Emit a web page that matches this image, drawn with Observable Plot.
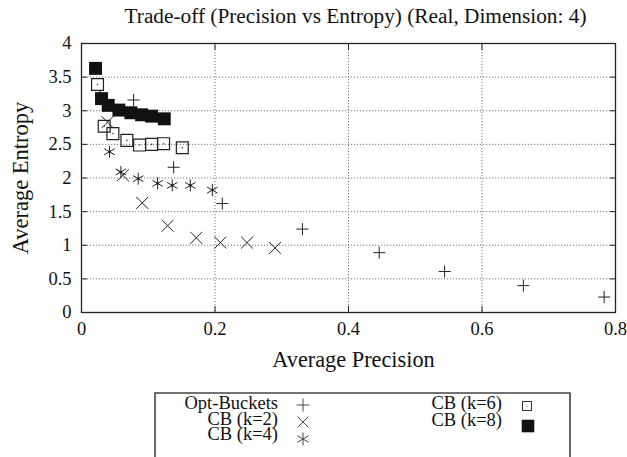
<!DOCTYPE html>
<html>
<head>
<meta charset="utf-8">
<script src="https://cdn.jsdelivr.net/npm/d3@7"></script>
<script src="https://cdn.jsdelivr.net/npm/@observablehq/plot@0.6"></script>
<style>
  html, body { margin: 0; padding: 0; background: #fff; overflow: hidden; }
  #wrap { position: relative; width: 627px; height: 457px; }
  #wrap svg, #wrap svg text { font-family: "Liberation Serif", "DejaVu Serif", "Noto Serif", serif !important; }
  #legend { position: absolute; left: 0; top: 380px; }
</style>
</head>
<body>
<div id="wrap"></div>
<script>
// ---- data ----
const optX = [0.078, 0.138, 0.211, 0.331, 0.446, 0.544, 0.662, 0.783];
const optY = [3.16, 2.16, 1.62, 1.24, 0.89, 0.61, 0.40, 0.23];

const k2X = [0.039, 0.062, 0.091, 0.129, 0.172, 0.208, 0.248, 0.290];
const k2Y = [2.83, 2.04, 1.63, 1.29, 1.11, 1.04, 1.04, 0.96];

const k4X = [0.028, 0.042, 0.059, 0.085, 0.114, 0.136, 0.163, 0.196];
const k4Y = [3.22, 2.39, 2.09, 1.99, 1.92, 1.89, 1.89, 1.82];

const k6X = [0.024, 0.034, 0.047, 0.068, 0.087, 0.105, 0.123, 0.151];
const k6Y = [3.39, 2.77, 2.66, 2.56, 2.49, 2.50, 2.51, 2.45];

const k8X = [0.021, 0.030, 0.040, 0.056, 0.074, 0.090, 0.105, 0.124];
const k8Y = [3.63, 3.18, 3.08, 3.01, 2.97, 2.94, 2.92, 2.88];

const xTicks = [0, 0.2, 0.4, 0.6, 0.8];
const yTicks = [0, 0.5, 1, 1.5, 2, 2.5, 3, 3.5, 4];
const xGrid = [0.2, 0.4, 0.6];
const yGrid = [0.5, 1, 1.5, 2, 2.5, 3, 3.5];

const title = "Trade-off (Precision vs Entropy) (Real, Dimension: 4)";
const xLabel = "Average Precision";
const yLabel = "Average Entropy";
const seriesNames = ["Opt-Buckets", "CB (k=2)", "CB (k=4)", "CB (k=6)", "CB (k=8)"];

const pts = (xs, ys) => xs.map((x, i) => ({x, y: ys[i]}));
const opt = pts(optX, optY), k2 = pts(k2X, k2Y), k4 = pts(k4X, k4Y), k6 = pts(k6X, k6Y), k8 = pts(k8X, k8Y);

const ink = "#222";
const blank = () => "";
const chart = Plot.plot({
  width: 627,
  height: 380,
  marginLeft: 81,
  marginRight: 12,
  marginTop: 43,
  marginBottom: 68,
  style: {fontFamily: "'Liberation Serif', 'DejaVu Serif', serif", fontSize: "18px", color: "#111", background: "#fff"},
  x: {domain: [0, 0.8]},
  y: {domain: [0, 4]},
  marks: [
    Plot.gridX(xGrid, {stroke: "#777", strokeOpacity: 1, strokeDasharray: "1.2,1.8"}),
    Plot.gridY(yGrid, {stroke: "#777", strokeOpacity: 1, strokeDasharray: "1.2,1.8"}),
    Plot.axisX(xTicks, {tickSize: 0, tickPadding: 9, tickFormat: d => String(d), label: null, fontSize: 18.5}),
    Plot.axisY(yTicks, {tickSize: 0, tickPadding: 10, tickFormat: d => String(d), label: null, fontSize: 18.5}),
    Plot.axisX(xTicks, {anchor: "bottom", tickSize: -6, tickFormat: blank, label: null, stroke: ink}),
    Plot.axisX(xTicks, {anchor: "top", tickSize: -6, tickFormat: blank, label: null, stroke: ink}),
    Plot.axisY(yTicks, {anchor: "left", tickSize: -6, tickFormat: blank, label: null, stroke: ink}),
    Plot.axisY(yTicks, {anchor: "right", tickSize: -6, tickFormat: blank, label: null, stroke: ink}),
    Plot.dot(opt, {x: "x", y: "y", symbol: "plus", r: 3.95, stroke: ink, strokeWidth: 1}),
    Plot.dot(k2, {x: "x", y: "y", symbol: "times", r: 5.5, stroke: ink, strokeWidth: 1}),
    Plot.dot(k4, {x: "x", y: "y", symbol: "asterisk", r: 5.7, stroke: ink, strokeWidth: 1}),
    Plot.dot(k4, {x: "x", y: "y", r: 1.3, fill: ink, stroke: "none"}),
    Plot.dot(k6, {x: "x", y: "y", symbol: "square", r: 6.7, fill: "none", stroke: ink, strokeWidth: 1.2}),
    Plot.dot(k6, {x: "x", y: "y", r: 0.8, fill: "#444", stroke: "none"}),
    Plot.dot(k8, {x: "x", y: "y", symbol: "square", r: 7.3, fill: "#111", stroke: "none"}),
    Plot.frame({stroke: ink, strokeWidth: 1.3}),
    Plot.text([title], {frameAnchor: "top", lineAnchor: "middle", textAnchor: "middle", dx: 7, dy: -27, fontSize: 21.3, fill: "#111"}),
    Plot.text([xLabel], {frameAnchor: "bottom", lineAnchor: "middle", textAnchor: "middle", dx: 5, dy: 47, fontSize: 22.3, fill: "#111"}),
    Plot.text([yLabel], {frameAnchor: "left", lineAnchor: "middle", textAnchor: "middle", dx: -61, rotate: -90, fontSize: 22.5, fill: "#111"})
  ]
});

const wrap = document.getElementById("wrap");
wrap.appendChild(chart);

// ---- legend (below the chart), drawn as a small SVG ----
const ns = "http://www.w3.org/2000/svg";
const oy = 380; // legend svg top in page coords
const lg = document.createElementNS(ns, "svg");
lg.setAttribute("id", "legend");
lg.setAttribute("width", 627);
lg.setAttribute("height", 77);
wrap.appendChild(lg);
const box = document.createElementNS(ns, "path");
box.setAttribute("d", `M155,${100}V${393 - oy}H570V${100}`);
box.setAttribute("fill", "none");
box.setAttribute("stroke", "#444");
box.setAttribute("stroke-width", "1.6");
lg.appendChild(box);
const entries = [
  {name: seriesNames[0], tx: 278, base: 409, sx: 303, sy: 405, kind: "plus"},
  {name: seriesNames[1], tx: 278, base: 424.5, sx: 303, sy: 422, kind: "times"},
  {name: seriesNames[2], tx: 278, base: 440, sx: 303, sy: 439, kind: "asterisk"},
  {name: seriesNames[3], tx: 502, base: 409, sx: 527, sy: 406, kind: "open"},
  {name: seriesNames[4], tx: 502, base: 425.5, sx: 528, sy: 426, kind: "filled"}
];
for (const e of entries) {
  const t = document.createElementNS(ns, "text");
  t.setAttribute("x", e.tx);
  t.setAttribute("y", e.base - oy);
  t.setAttribute("text-anchor", "end");
  t.setAttribute("font-size", "18.5");
  t.setAttribute("fill", "#111");
  t.textContent = e.name;
  lg.appendChild(t);
  const cx = e.sx, cy = e.sy - oy;
  let el;
  if (e.kind === "plus" || e.kind === "times" || e.kind === "asterisk") {
    let d;
    if (e.kind === "plus") d = `M${cx-6.5},${cy}H${cx+6.5}M${cx},${cy-6.5}V${cy+6.5}`;
    if (e.kind === "times") d = `M${cx-5.5},${cy-5.5}L${cx+5.5},${cy+5.5}M${cx+5.5},${cy-5.5}L${cx-5.5},${cy+5.5}`;
    if (e.kind === "asterisk") d = `M${cx},${cy-6.5}V${cy+6.5}M${cx-5.6},${cy-3.25}L${cx+5.6},${cy+3.25}M${cx+5.6},${cy-3.25}L${cx-5.6},${cy+3.25}`;
    el = document.createElementNS(ns, "path");
    el.setAttribute("d", d);
    el.setAttribute("stroke", "#333");
    el.setAttribute("stroke-width", "0.9");
    el.setAttribute("fill", "none");
  } else if (e.kind === "open") {
    el = document.createElementNS(ns, "g");
    el.innerHTML = `<rect x="${cx-4.5}" y="${cy-4.5}" width="9" height="9" fill="none" stroke="#333" stroke-width="1"/><circle cx="${cx}" cy="${cy}" r="0.6" fill="#333"/>`;
  } else {
    el = document.createElementNS(ns, "rect");
    el.setAttribute("x", cx - 6.3); el.setAttribute("y", cy - 6.3);
    el.setAttribute("width", 12.6); el.setAttribute("height", 12.6);
    el.setAttribute("fill", "#111");
  }
  lg.appendChild(el);
}
</script>
</body>
</html>
